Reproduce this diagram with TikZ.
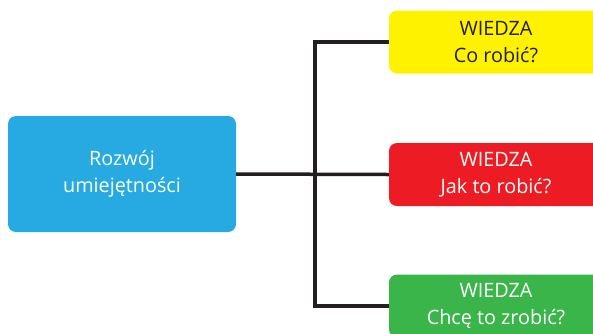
\documentclass[tikz,border=0pt]{standalone}
\usepackage{fontspec}
\setmainfont{Open Sans}
\definecolor{cblue}{HTML}{27AAE1}
\definecolor{cyellow}{HTML}{FFF200}
\definecolor{cred}{HTML}{ED1C24}
\definecolor{cgreen}{HTML}{39B54A}
\definecolor{cline}{HTML}{231F20}
\tikzset{
  box/.style={rounded corners=8pt, inner sep=0pt, align=center,
    font=\fontsize{19.8}{27}\selectfont},
  leftbox/.style={box, fill=cblue, text=white, minimum width=228pt, minimum height=116pt},
  rightbox/.style={box, minimum width=214pt, minimum height=63pt},
  conn/.style={draw=cline, line width=3.5pt, line join=miter},
}
\begin{document}
\begin{tikzpicture}[x=1pt,y=-1pt]
\useasboundingbox (0,0) rectangle (593,333);
\clip (0,0) rectangle (593,333);
\fill[white] (0,0) rectangle (593,333);
\node[leftbox] (L) at (122,174) {Rozwój\\umiejętności};
\node[rightbox, fill=cyellow, text=cline] (Y) at (496,42) {WIEDZA\\Co robić?};
\node[rightbox, fill=cred, text=white] (R) at (496,174.5) {WIEDZA\\Jak to robić?};
\node[rightbox, fill=cgreen, text=white] (G) at (496,306) {WIEDZA\\Chcę to zrobić?};
\coordinate (J) at (315,174);
\draw[conn] (Y.west) -| (J) |- (G.west);
\draw[conn] (L.east) -- (R.west);
\end{tikzpicture}
\end{document}
